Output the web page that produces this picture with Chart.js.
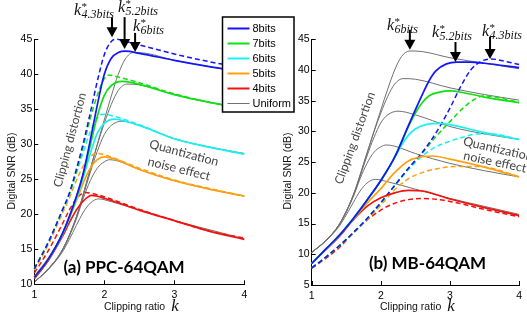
<!DOCTYPE html>
<html>
<head>
<meta charset="utf-8">
<script src="https://cdn.jsdelivr.net/npm/chart.js@4.4.1/dist/chart.umd.min.js"></script>
<style>
  body { margin: 0; background: #fff; }
  #wrap { position: relative; width: 527px; height: 322px; }
  canvas { position: absolute; top: 0; }
  #left { left: 0; z-index: 2; }
  #right { left: 260px; z-index: 1; }
</style>
</head>
<body>
<div id="wrap">
  <canvas id="right" width="267" height="322"></canvas>
  <canvas id="left" width="300" height="322"></canvas>
</div>
<script>
// legend / bit levels
const bitLabels = ['8bits', '7bits', '6bits', '5bits', '4bits', 'Uniform'];
const xTicks = [1, 2, 3, 4];

// uniform quantizer curves [k, dB] (same in both panels)
const uni8 = [[1,10.3],[1.2,12.2],[1.4,14.9],[1.6,19.6],[1.8,26.5],[2.0,33.5],[2.1,36.9],[2.2,40.0],[2.3,42.2],[2.42,43.1],[2.6,43.0],[3.0,42.0],[3.5,41.1],[4.0,40.2]];
const uni7 = [[1,10.3],[1.2,12.2],[1.4,14.9],[1.6,19.6],[1.8,26.4],[1.9,29.9],[2.0,33.0],[2.1,35.7],[2.2,37.7],[2.32,38.6],[2.5,38.5],[3.0,37.1],[3.5,36.0],[4.0,35.1]];
const uni6 = [[1,10.3],[1.2,12.2],[1.4,14.9],[1.6,19.5],[1.8,26.0],[1.9,29.0],[2.0,31.4],[2.1,32.7],[2.25,33.3],[2.5,32.7],[3.0,30.8],[3.5,29.6],[4.0,28.7]];
const uni5 = [[1,10.3],[1.2,12.2],[1.4,14.8],[1.6,19.3],[1.7,22.3],[1.8,24.8],[1.9,26.6],[2.0,27.5],[2.08,27.8],[2.2,27.6],[2.5,26.4],[3.0,24.8],[3.5,23.6],[4.0,22.6]];
const uni4 = [[1,10.3],[1.2,12.1],[1.4,14.6],[1.5,16.4],[1.6,18.4],[1.7,20.3],[1.8,21.6],[1.92,22.2],[2.1,21.8],[2.5,20.6],[3.0,19.1],[3.5,17.8],[4.0,16.5]];

// (a) PPC-64QAM, solid
const ppcS8 = [[1,11.0],[1.2,13.6],[1.4,17.2],[1.6,22.5],[1.7,25.9],[1.8,30.6],[1.9,35.6],[2.0,40.0],[2.1,42.3],[2.2,43.1],[2.3,43.3],[2.5,43.0],[3.0,42.0],[3.5,41.1],[4.0,40.3]];
const ppcS7 = [[1,11.0],[1.2,13.6],[1.4,17.2],[1.6,22.4],[1.7,25.7],[1.8,29.9],[1.9,34.0],[2.0,37.0],[2.1,38.4],[2.25,39.0],[2.4,38.8],[3.0,37.1],[3.5,36.0],[4.0,35.1]];
const ppcS6 = [[1,11.0],[1.2,13.6],[1.4,17.1],[1.6,22.2],[1.7,25.3],[1.8,28.7],[1.9,31.6],[2.0,33.0],[2.15,33.6],[2.3,33.3],[2.5,32.7],[3.0,30.8],[3.5,29.6],[4.0,28.6]];
const ppcS5 = [[1,11.1],[1.2,13.7],[1.4,17.1],[1.6,21.9],[1.7,24.5],[1.8,26.6],[1.9,27.8],[2.0,28.2],[2.2,27.7],[2.5,26.4],[3.0,24.8],[3.5,23.6],[4.0,22.6]];
const ppcS4 = [[1,10.8],[1.2,13.4],[1.4,16.8],[1.5,18.8],[1.6,20.6],[1.7,21.9],[1.82,22.7],[2.0,22.3],[2.5,20.6],[3.0,19.1],[3.5,17.6],[4.0,16.4]];
// (a) PPC-64QAM, dashed
const ppcD8 = [[1,12.2],[1.2,16.0],[1.4,20.6],[1.5,23.0],[1.6,26.4],[1.7,30.2],[1.8,34.5],[1.9,39.0],[2.0,42.8],[2.1,44.7],[2.17,45.0],[2.3,44.7],[2.5,44.2],[3.0,42.9],[3.5,41.8],[4.0,40.9]];
const ppcD7 = [[1,12.2],[1.2,16.0],[1.4,20.5],[1.5,22.9],[1.6,26.1],[1.7,29.7],[1.8,33.7],[1.9,37.0],[2.0,39.4],[2.07,39.9],[2.2,39.6],[2.5,38.8],[3.0,37.2],[3.5,36.0],[4.0,35.2]];
const ppcD6 = [[1,12.2],[1.2,16.0],[1.4,20.5],[1.5,22.8],[1.6,25.8],[1.7,28.9],[1.8,31.8],[1.9,33.7],[1.98,34.3],[2.1,34.1],[2.5,32.8],[3.0,30.8],[3.5,29.6],[4.0,28.6]];
const ppcD5 = [[1,12.0],[1.2,15.7],[1.4,20.1],[1.5,22.3],[1.6,24.8],[1.7,26.9],[1.8,28.2],[1.88,28.7],[2.0,28.5],[2.5,26.6],[3.0,24.9],[3.5,23.7],[4.0,22.6]];
const ppcD4 = [[1,11.6],[1.2,14.8],[1.4,18.6],[1.5,20.6],[1.6,22.2],[1.73,23.1],[1.9,22.8],[2.5,20.7],[3.0,19.1],[3.5,17.6],[4.0,16.6]];

// (b) MB-64QAM, solid
const mbS8 = [[1,8.5],[1.2,10.8],[1.4,13.1],[1.6,15.8],[1.8,18.8],[2.0,22.0],[2.2,25.8],[2.4,31.0],[2.6,36.0],[2.7,38.3],[2.8,39.9],[2.95,41.0],[3.1,41.3],[3.3,41.3],[3.5,41.1],[4.0,40.4]];
const mbS7 = [[1,8.5],[1.2,10.8],[1.4,13.1],[1.6,15.8],[1.8,18.8],[2.0,22.0],[2.2,25.8],[2.4,30.8],[2.5,33.0],[2.6,34.7],[2.7,35.8],[2.85,36.4],[3.0,36.6],[3.2,36.3],[3.5,35.6],[4.0,34.7]];
const mbS6 = [[1,8.5],[1.2,10.8],[1.4,13.1],[1.6,15.8],[1.8,18.8],[2.0,22.0],[2.2,25.7],[2.3,27.8],[2.4,29.4],[2.5,30.4],[2.65,31.1],[2.85,31.3],[3.0,31.1],[3.5,29.8],[4.0,28.7]];
const mbS5 = [[1,8.5],[1.2,10.8],[1.4,13.1],[1.6,15.7],[1.8,18.3],[2.0,20.7],[2.2,23.3],[2.4,25.2],[2.6,25.9],[2.75,26.0],[3.0,25.5],[3.5,24.2],[4.0,22.6]];
const mbS4 = [[1,8.5],[1.2,10.7],[1.4,12.9],[1.6,15.6],[1.8,17.8],[2.0,19.2],[2.2,20.0],[2.4,20.4],[2.6,20.3],[3.0,19.0],[3.5,17.6],[4.0,16.3]];
// (b) MB-64QAM, dashed
const mbD8 = [[1,7.8],[1.2,9.5],[1.4,11.4],[1.6,13.5],[1.8,15.8],[2.0,18.4],[2.2,21.2],[2.4,24.0],[2.6,26.6],[2.8,29.8],[3.0,33.8],[3.15,37.2],[3.3,40.0],[3.45,41.4],[3.6,41.8],[3.8,41.4],[4.0,40.9]];
const mbD7 = [[1,7.8],[1.2,9.5],[1.4,11.4],[1.6,13.5],[1.8,15.8],[2.0,18.4],[2.2,21.2],[2.4,24.0],[2.6,26.5],[2.8,29.2],[3.0,31.6],[3.2,33.9],[3.35,35.2],[3.5,35.8],[3.7,35.5],[4.0,34.7]];
const mbD6 = [[1,7.8],[1.2,9.5],[1.4,11.4],[1.6,13.5],[1.8,15.8],[2.0,18.4],[2.2,21.1],[2.4,23.8],[2.6,26.0],[2.8,27.5],[3.0,28.4],[3.2,29.1],[3.4,29.6],[3.6,29.6],[4.0,28.7]];
const mbD5 = [[1,7.8],[1.2,9.5],[1.4,11.4],[1.6,13.4],[1.8,15.6],[2.0,18.0],[2.2,20.5],[2.4,22.3],[2.6,23.3],[2.85,24.0],[3.1,24.3],[3.4,24.3],[3.6,24.0],[4.0,22.6]];
const mbD4 = [[1,7.7],[1.2,9.3],[1.4,11.1],[1.7,14.6],[2.0,17.2],[2.2,18.3],[2.4,18.9],[2.6,19.1],[3.0,18.6],[3.5,17.3],[4.0,16.1]];

const bitColors = ['#1414ff', '#10e010', '#19f0f0', '#ffa010', '#f51010'];
const uniColor = '#707070';
const textGray = '#454545';
const tickFont = { family: '"Liberation Sans", Arial', size: 10.5 };

const toXY = (s) => s.map((p) => ({ x: p[0], y: p[1] }));

function makeSets(solid, dashed, uniform) {
  const sets = [];
  solid.forEach((s, i) => sets.push({ data: toXY(s), borderColor: bitColors[i], borderWidth: 1.7 }));
  dashed.forEach((s, i) => sets.push({ data: toXY(s), borderColor: bitColors[i], borderWidth: 1.5, borderDash: [5, 3] }));
  uniform.forEach((s) => sets.push({ data: toXY(s), borderColor: uniColor, borderWidth: 1 }));
  return sets;
}

function drawK(ctx, x, y, sub) {
  ctx.fillStyle = '#111';
  ctx.textAlign = 'left';
  ctx.textBaseline = 'alphabetic';
  ctx.font = 'italic 16px "Liberation Serif"';
  ctx.fillText('k', x, y);
  const w = ctx.measureText('k').width;
  ctx.font = '11px "Liberation Serif"';
  ctx.fillText('*', x + w + 0.5, y - 5);
  ctx.font = 'italic 12px "Liberation Serif"';
  ctx.fillText(sub, x + w + 0.5, y + 3);
}

function drawArrow(ctx, x, tipY, len) {
  ctx.strokeStyle = '#000';
  ctx.fillStyle = '#000';
  ctx.lineWidth = 2;
  ctx.beginPath();
  ctx.moveTo(x, tipY - len);
  ctx.lineTo(x, tipY - 9);
  ctx.stroke();
  ctx.beginPath();
  ctx.moveTo(x - 5.5, tipY - 10);
  ctx.lineTo(x + 5.5, tipY - 10);
  ctx.lineTo(x, tipY);
  ctx.closePath();
  ctx.fill();
}

function rotText(ctx, text, x, y, deg, font) {
  ctx.save();
  ctx.translate(x, y);
  ctx.rotate(deg * Math.PI / 180);
  ctx.font = font;
  ctx.textAlign = 'center';
  ctx.textBaseline = 'middle';
  ctx.fillText(text, 0, 0);
  ctx.restore();
}

const decorate = {
  id: 'decorate',
  afterDraw(chart, args, o) {
    const ctx = chart.ctx;
    const xs = chart.scales.x, ys = chart.scales.y;
    const area = chart.chartArea;
    ctx.save();
    // inward ticks
    ctx.strokeStyle = '#000';
    ctx.lineWidth = 1;
    ctx.beginPath();
    xs.ticks.forEach((t) => {
      const px = Math.round(xs.getPixelForValue(t.value)) + 0.5;
      ctx.moveTo(px, area.bottom);
      ctx.lineTo(px, area.bottom - 4);
    });
    ys.ticks.forEach((t) => {
      const py = Math.round(ys.getPixelForValue(t.value)) + 0.5;
      ctx.moveTo(area.left, py);
      ctx.lineTo(area.left + 4, py);
    });
    ctx.stroke();

    // axis titles
    ctx.fillStyle = '#111';
    rotText(ctx, 'Digital SNR (dB)', o.yTitleX, 171, -90, '10.5px "Liberation Sans"');
    ctx.font = '10.5px "Liberation Sans"';
    const w1 = ctx.measureText('Clipping ratio').width;
    ctx.font = 'italic 17px "Liberation Serif"';
    const w2 = ctx.measureText('k').width;
    const cx = (area.left + area.right) / 2 + 2;
    const startX = cx - (w1 + 6 + w2) / 2;
    ctx.textAlign = 'left';
    ctx.textBaseline = 'alphabetic';
    ctx.font = '10.5px "Liberation Sans"';
    ctx.fillText('Clipping ratio', startX, 310);
    ctx.font = 'italic 17px "Liberation Serif"';
    ctx.fillText('k', startX + w1 + 6, 311);

    // region notes
    ctx.fillStyle = textGray;
    rotText(ctx, 'Clipping distortion', o.clip[0], o.clip[1], o.clip[2], '12px Lato');
    o.quant.forEach((q) => rotText(ctx, q[0], q[1], q[2], q[3], '12.5px Lato'));

    // panel title
    ctx.fillStyle = '#000';
    ctx.font = 'bold 17px Lato';
    ctx.textAlign = 'center';
    ctx.textBaseline = 'middle';
    ctx.fillText(o.title[0], o.title[1], o.title[2]);

    // optimum clipping ratios
    o.arrows.forEach((a) => drawArrow(ctx, xs.getPixelForValue(a.k), ys.getPixelForValue(a.db), a.len));
    o.kLabels.forEach((l) => drawK(ctx, l[0], l[1], l[2]));

    // legend box
    if (o.legend) {
      const L = o.legend;
      ctx.fillStyle = '#fff';
      ctx.fillRect(L.x, L.y, L.w, L.h);
      ctx.strokeStyle = '#000';
      ctx.lineWidth = 1.5;
      ctx.strokeRect(L.x, L.y, L.w, L.h);
      ctx.font = '11px "Liberation Sans"';
      ctx.textAlign = 'left';
      ctx.textBaseline = 'middle';
      bitLabels.forEach((lab, i) => {
        const ry = L.y + 11.5 + i * 15;
        ctx.strokeStyle = i < 5 ? bitColors[i] : uniColor;
        ctx.lineWidth = i < 5 ? 2 : 1;
        ctx.beginPath();
        ctx.moveTo(L.x + 5, ry);
        ctx.lineTo(L.x + 27, ry);
        ctx.stroke();
        ctx.fillStyle = '#000';
        ctx.fillText(lab, L.x + 30, ry + 0.5);
      });
    }
    ctx.restore();
  }
};

function makeChart(id, sets, yMin, yW, xH, padR, deco) {
  return new Chart(document.getElementById(id), {
    type: 'line',
    data: { datasets: sets },
    plugins: [decorate],
    options: {
      responsive: false,
      animation: false,
      layout: { padding: { left: 0, right: padR, top: 39.3, bottom: 0 } },
      elements: {
        point: { radius: 0 },
        line: { cubicInterpolationMode: 'monotone', tension: 0.4 }
      },
      datasets: { line: { clip: 4 } },
      plugins: { legend: { display: false }, tooltip: { enabled: false }, decorate: deco },
      scales: {
        x: {
          type: 'linear', min: 1, max: 4,
          afterBuildTicks: (s) => { s.ticks = xTicks.map((v) => ({ value: v })); },
          afterFit: (s) => { s.height = xH; },
          ticks: { font: tickFont, color: '#000', padding: 5 },
          grid: { drawOnChartArea: false, drawTicks: false },
          border: { color: '#000', width: 1 }
        },
        y: {
          min: yMin, max: 45,
          ticks: { stepSize: 5, font: tickFont, color: '#000', padding: 2 },
          afterFit: (s) => { s.width = yW; },
          grid: { drawOnChartArea: false, drawTicks: false },
          border: { color: '#000', width: 1 }
        }
      }
    }
  });
}

makeChart('right',
  makeSets([mbS8, mbS7, mbS6, mbS5, mbS4], [mbD8, mbD7, mbD6, mbD5, mbD4], [uni8, uni7, uni6, uni5, uni4]),
  5, 51.7, 37, 7, {
    yTitleX: 28,
    clip: [95, 138, -70],
    quant: [['Quantization', 238, 149, 13], ['noise effect', 235, 162, 12]],
    title: ['(b) MB-64QAM', 167.5, 264],
    arrows: [{ k: 2.42, db: 43.3, len: 20 }, { k: 3.08, db: 41.3, len: 20 }, { k: 3.58, db: 41.8, len: 22 }],
    kLabels: [[127, 30, '6bits'], [172, 37, '5.2bits'], [222, 36, '4.3bits']]
  });

makeChart('left',
  makeSets([ppcS8, ppcS7, ppcS6, ppcS5, ppcS4], [ppcD8, ppcD7, ppcD6, ppcD5, ppcD4], [uni8, uni7, uni6, uni5, uni4]),
  10, 34.3, 37.7, 55.7, {
    yTitleX: 12,
    clip: [70, 140, -75],
    quant: [['Quantization', 184, 153, 15], ['noise effect', 179, 169, 14]],
    title: ['(a) PPC-64QAM', 124, 268],
    arrows: [{ k: 2.11, db: 45.3, len: 20 }, { k: 2.29, db: 43.6, len: 32 }, { k: 2.44, db: 43.2, len: 19 }],
    kLabels: [[74, 15, '4.3bits'], [118, 12, '5.2bits'], [133, 31, '6bits']],
    legend: { x: 222.5, y: 17, w: 71.5, h: 95 }
  });
</script>
</body>
</html>
